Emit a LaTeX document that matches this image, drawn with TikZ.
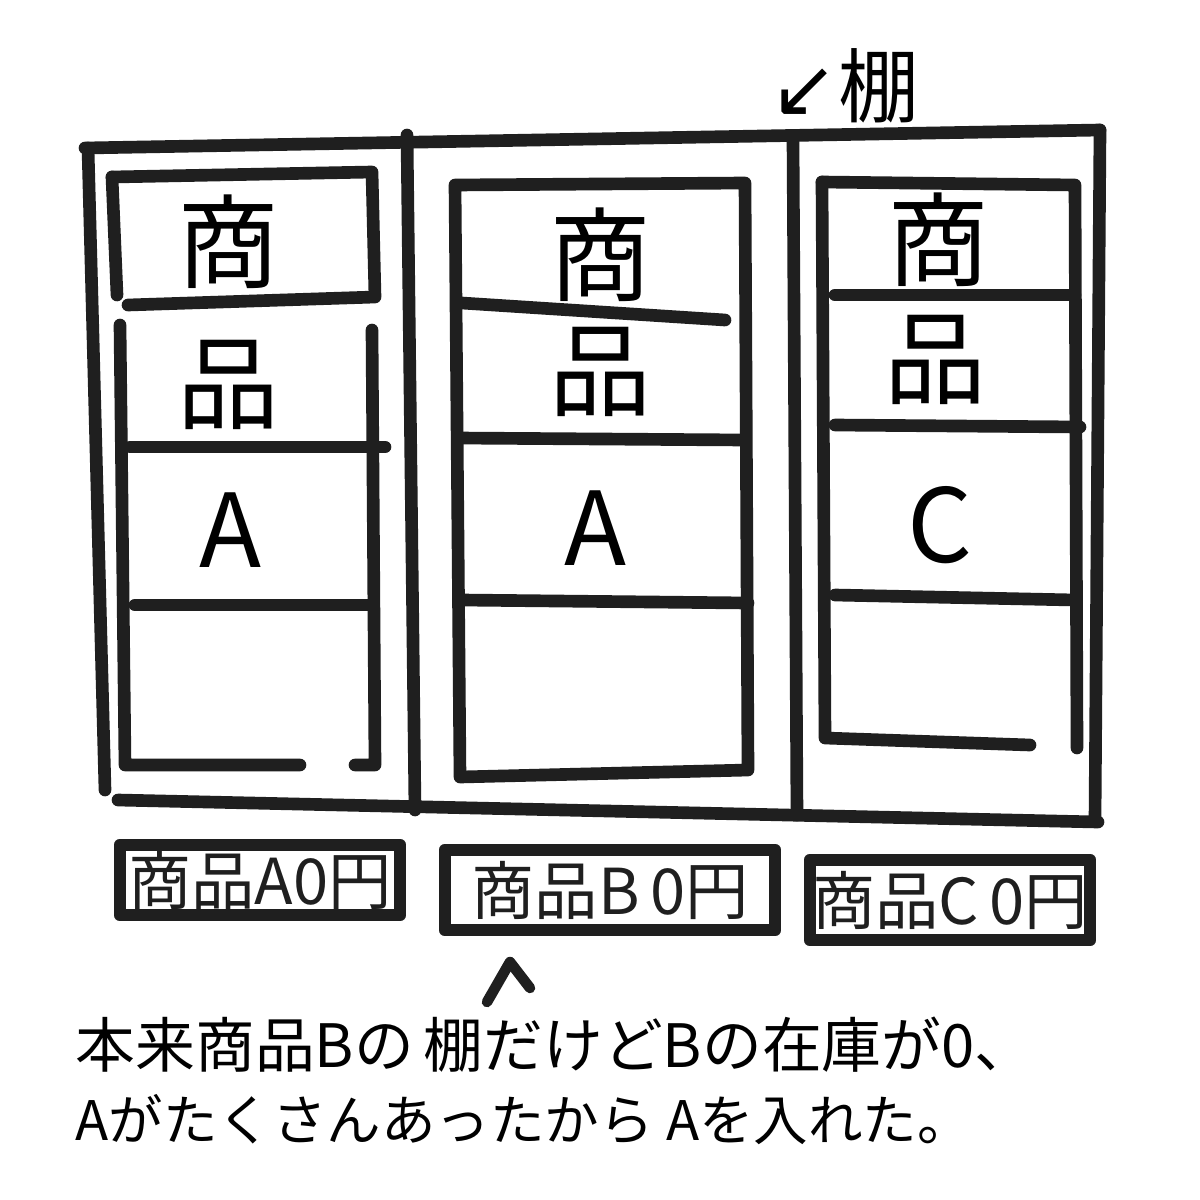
\documentclass[tikz,border=0pt]{standalone}
\usepackage{fontspec}
\newfontfamily\jp{Noto Sans CJK JP}
\newfontfamily\arrowfont{DejaVu Sans}

\tikzset{
	pen/.style={line width=3.6pt, line cap=round, line join=round, black!88},
	cell/.style={font=\jp\fontsize{29}{29}\selectfont, inner sep=0pt},
	tag/.style={font=\jp\fontsize{18}{18}\selectfont, inner sep=0pt},
	note/.style={font=\jp\fontsize{17}{17}\selectfont, anchor=west, inner sep=0pt},
}

\begin{document}
\begin{tikzpicture}[x=0.01cm, y=-0.01cm]
	\fill[white] (0,0) rectangle (1200,1200);
	\useasboundingbox (0,0) rectangle (1200,1200);
	
	% outer frame of the shelf
	\draw[pen] (85,148) -- (1100,130);
	\draw[pen] (88,148) -- (105,790);
	\draw[pen] (1100,130) -- (1095,820);
	\draw[pen] (118,800) -- (1098,822);
	\draw[pen] (407,135) -- (415,810);
	\draw[pen] (793,140) -- (797,815);
	
	% left column
	\draw[pen] (112,177) -- (372,172) -- (375,297) -- (128,305);
	\draw[pen] (112,177) -- (117,295);
	\draw[pen] (120,325) -- (125,765) -- (300,765);
	\draw[pen] (372,330) -- (375,765) -- (355,765);
	\draw[pen] (130,447) -- (385,447);
	\draw[pen] (135,605) -- (372,605);
	
	% middle column
	\draw[pen] (455,185) -- (745,183) -- (748,770) -- (460,777) -- cycle;
	\draw[pen] (462,303) -- (725,320);
	\draw[pen] (458,438) -- (745,440);
	\draw[pen] (462,600) -- (748,603);
	
	% right column
	\draw[pen] (822,182) -- (1075,185) -- (1077,748);
	\draw[pen] (822,182) -- (825,738) -- (1030,745);
	\draw[pen] (835,295) -- (1075,295);
	\draw[pen] (835,425) -- (1080,427);
	\draw[pen] (835,595) -- (1075,600);
	
	% what sits on each shelf
	\foreach \n/\x/\y/\t in {sa/228/242/商, sb/600/255/商, sc/938/240/商,
		ha/228/385/品, hb/600/372/品, hc/935/360/品,
		ka/230/530/A, kb/595/528/A, kc/940/525/C}{
		\node[cell] (\n) at (\x,\y) {\t};
	}
	
	% price tags
	\node[tag, draw, pen, minimum width=2.8cm, minimum height=0.7cm] (pa) at (260,880) {商品A0円};
	\node[tag, draw, pen, minimum width=3.3cm, minimum height=0.8cm] (pb) at (610,890) {商品B\,0円};
	\node[tag, draw, pen, minimum width=2.8cm, minimum height=0.8cm] (pc) at (950,900) {商品C\,0円};
	
	\node[tag, font=\jp\fontsize{23}{23}\selectfont] (top) at (845,86) {{\arrowfont ↙}棚};
	
	% note below
	\draw[pen, line width=3pt] (487,1002) -- (510,962) -- (530,988);
	\node[note] (n1) at (75,1045) {本来商品Bの\,棚だけどBの在庫が0、};
	\node[note, font=\jp\fontsize{15.5}{15.5}\selectfont] (n2) at (75,1120) {Aがたくさんあったから Aを入れた。};
\end{tikzpicture}
\end{document}
